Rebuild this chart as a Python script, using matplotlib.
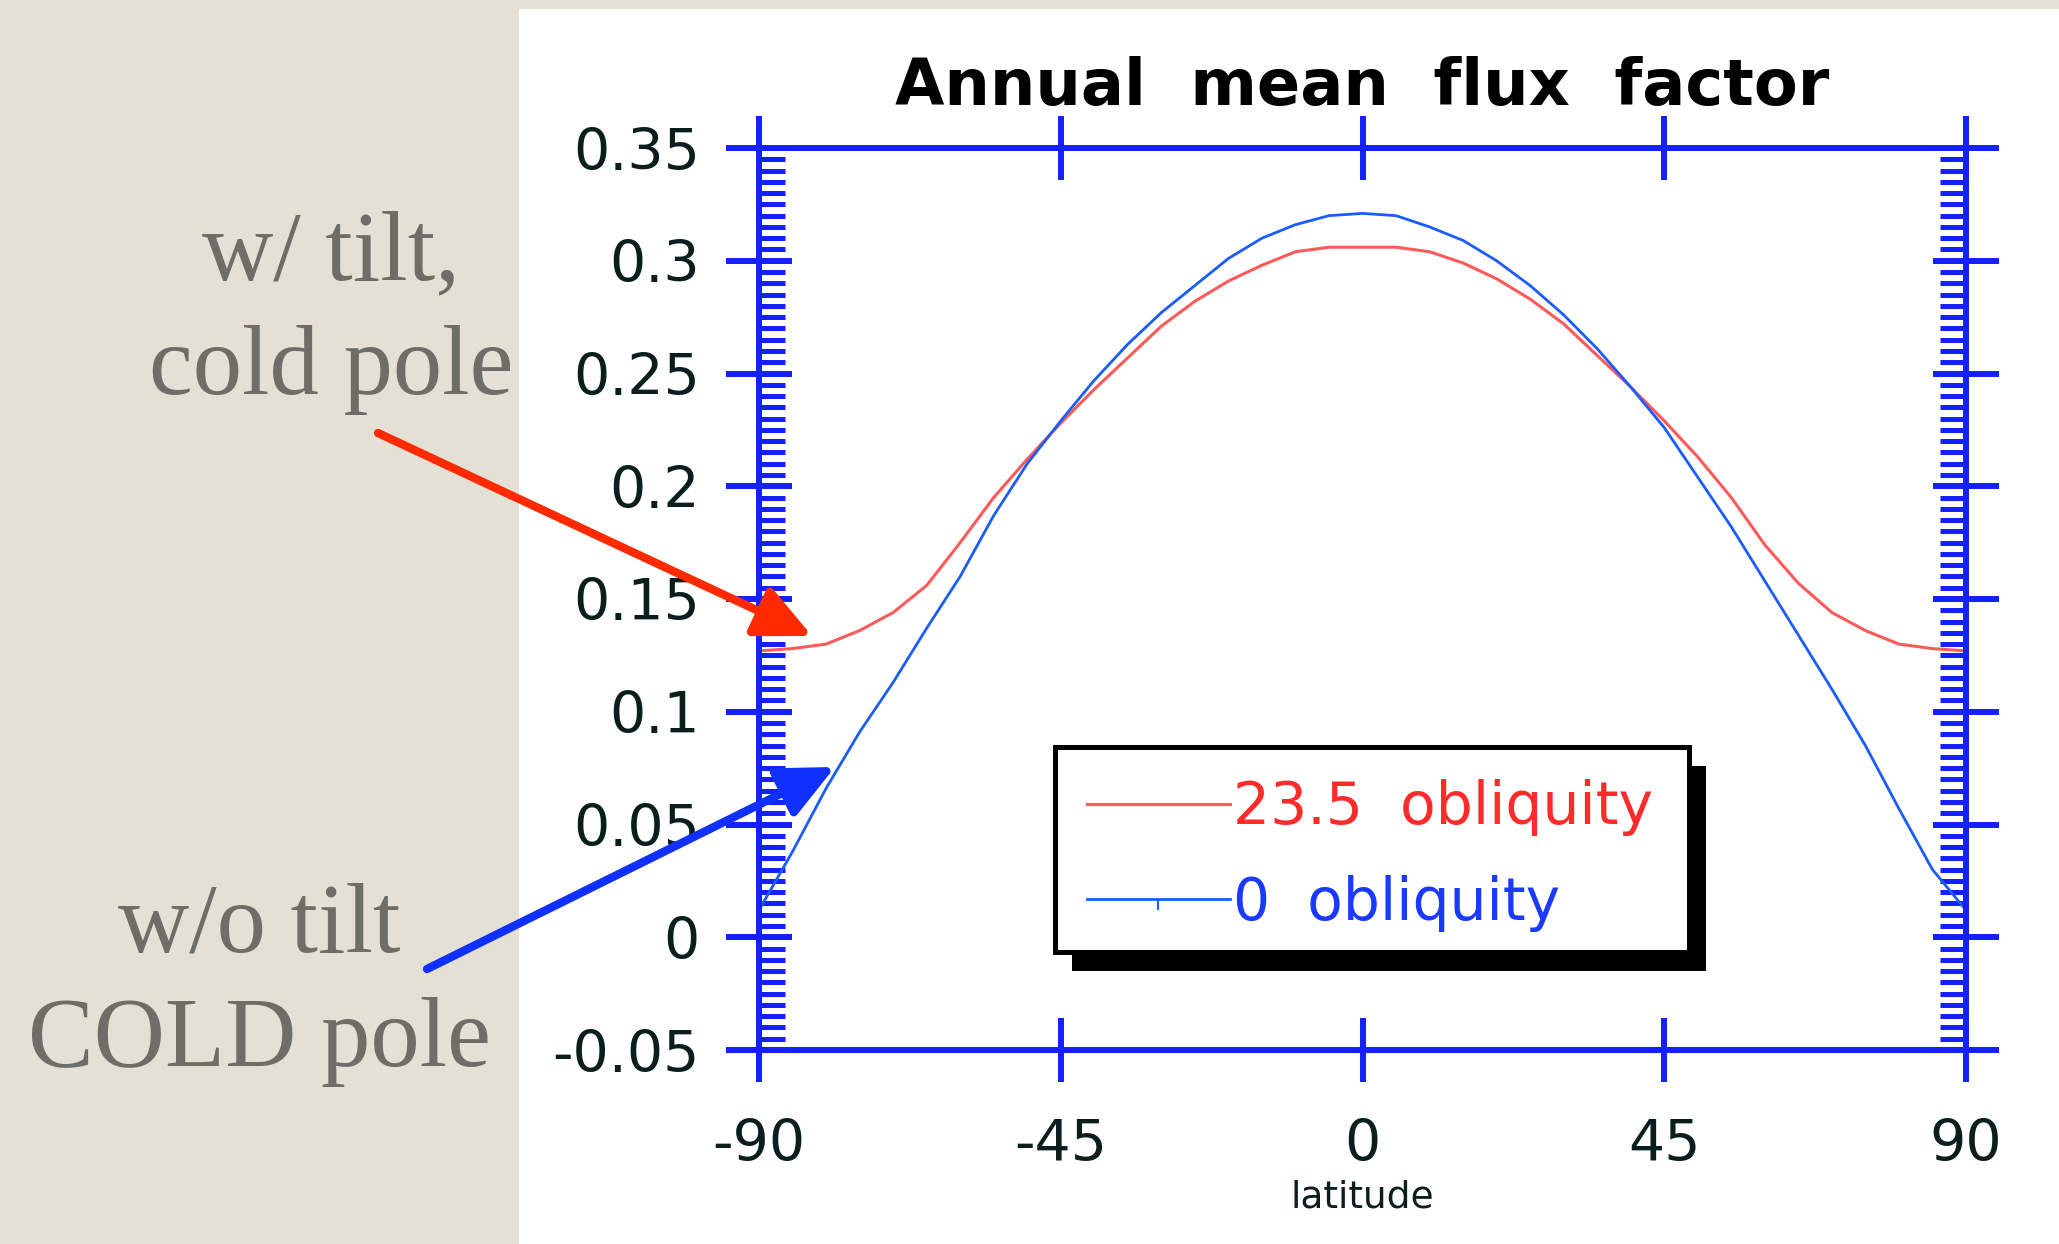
import matplotlib
matplotlib.use('Agg')
import matplotlib.pyplot as plt
from matplotlib.lines import Line2D
from matplotlib.patches import Rectangle, FancyArrowPatch
from matplotlib.ticker import MultipleLocator

# latitude grid (deg)
lat = [-90, -85, -80, -75, -70, -65, -60, -55, -50, -45, -40, -35, -30, -25, -20,
       -15, -10, -5, 0, 5, 10, 15, 20, 25, 30, 35, 40, 45, 50, 55, 60, 65, 70,
       75, 80, 85, 90]

# annual mean flux factor, 23.5 deg obliquity
flux_tilt = [0.127, 0.128, 0.130, 0.136, 0.144, 0.156, 0.175, 0.195, 0.212, 0.228,
             0.243, 0.257, 0.271, 0.282, 0.291, 0.298, 0.304, 0.306, 0.306, 0.306,
             0.304, 0.299, 0.292, 0.283, 0.272, 0.258, 0.244, 0.229, 0.213, 0.195,
             0.174, 0.157, 0.144, 0.136, 0.130, 0.128, 0.127]

# annual mean flux factor, 0 obliquity
flux_notilt = [0.012, 0.038, 0.066, 0.091, 0.113, 0.137, 0.160, 0.187, 0.210, 0.229,
               0.247, 0.263, 0.277, 0.289, 0.301, 0.310, 0.316, 0.320, 0.321, 0.320,
               0.315, 0.309, 0.300, 0.289, 0.276, 0.261, 0.244, 0.226, 0.204, 0.182,
               0.158, 0.134, 0.110, 0.085, 0.057, 0.030, 0.012]

lat_ticks = [-90, -45, 0, 45, 90]
lat_labels = ['-90', '-45', '0', '45', '90']
flux_ticks = [-0.05, 0, 0.05, 0.1, 0.15, 0.2, 0.25, 0.3, 0.35]
flux_labels = ['-0.05', '0', '0.05', '0.1', '0.15', '0.2', '0.25', '0.3', '0.35']

series_names = ['23.5  obliquity', '0  obliquity']

W, H = 2059, 1244
blue = '#1420ff'
red_line = '#ff5a5a'
blue_line = '#1a5cff'
ink = '#0a1e1e'
slide_gray = '#6e6d67'

fig = plt.figure(figsize=(W / 100, H / 100), dpi=100)
fig.patch.set_facecolor('#e4e0d5')
# white panel the plot sits on
fig.add_artist(Rectangle((519 / W, 0), 1 - 519 / W, 1 - 9 / H,
                         transform=fig.transFigure, facecolor='white',
                         edgecolor='none', zorder=-1))

ax = fig.add_axes([759 / W, 1 - 1050 / H, (1966 - 759) / W, (1050 - 148) / H])
ax.plot(lat, flux_tilt, color=red_line, lw=2.2)
ax.plot(lat, flux_notilt, color=blue_line, lw=2.0)
ax.set_xlim(-90, 90)
ax.set_ylim(-0.05, 0.35)

ax.set_xticks(lat_ticks)
ax.set_xticklabels(lat_labels)
ax.set_yticks(flux_ticks)
ax.set_yticklabels(flux_labels)
ax.yaxis.set_minor_locator(MultipleLocator(0.005))

ax.tick_params(which='major', direction='inout', width=4.3, color=blue,
               top=True, right=True, labelsize=41, labelcolor=ink)
ax.tick_params(axis='x', which='major', length=46, pad=26)
ax.tick_params(axis='y', which='major', length=47, pad=19)
ax.tick_params(axis='y', which='minor', direction='in', length=19, width=3.6,
               color=blue, left=True, right=True)
for s in ax.spines.values():
    s.set_color(blue)
    s.set_linewidth(4.3)

fig.text(1362 / W, 1 - 105 / H, 'Annual  mean  flux  factor', fontsize=46,
         fontweight='bold', color='black', ha='center', va='baseline')

ax.set_xlabel('latitude', fontsize=27, color=ink, va='baseline')
ax.xaxis.set_label_coords(0.5, -(1207 - 1050) / 902)

# legend box with hard black shadow
bx, by, bw, bh = 0.2452, 0.1086, 0.5253, 0.2273
ax.add_patch(Rectangle((bx + 0.0141, by - 0.0211), bw, bh, transform=ax.transAxes,
                       facecolor='black', edgecolor='none', zorder=3.8))
ax.add_patch(Rectangle((bx, by), bw, bh, transform=ax.transAxes,
                       facecolor='white', edgecolor='black', lw=3.6, zorder=3.9))
handles = [Line2D([], [], color=red_line, lw=2.2),
           Line2D([], [], color=blue_line, lw=2.0, marker=3, markersize=8,
                  markeredgewidth=1.5)]
leg = ax.legend(handles, series_names, loc='upper left', bbox_to_anchor=(0.2717, 0.300),
                borderaxespad=0, borderpad=0, frameon=False, fontsize=42,
                handlelength=2.45, handletextpad=0.05, labelspacing=0.66,
                labelcolor=['#ff2a2a', '#1a3aff'])
leg.set_zorder(5)

# slide annotations (va='baseline' sits on the last line)
fig.text(331 / W, 1 - 394 / H, 'w/ tilt,\ncold pole', fontsize=71,
         family='Liberation Serif', color=slide_gray, ha='center', va='baseline',
         multialignment='center', linespacing=1.36)
fig.text(259 / W, 1 - 1066 / H, 'w/o tilt\nCOLD pole', fontsize=71,
         family='Liberation Serif', color=slide_gray, ha='center', va='baseline',
         multialignment='center', linespacing=1.36)

fig.add_artist(FancyArrowPatch((378 / W, 1 - 433 / H), (812 / W, 1 - 636 / H),
                               transform=fig.transFigure,
                               arrowstyle='-|>,head_length=34,head_width=16',
                               mutation_scale=1, lw=6, color='#ff2a00',
                               shrinkA=0, shrinkB=0, zorder=10))
fig.add_artist(FancyArrowPatch((427 / W, 1 - 969 / H), (835 / W, 1 - 767 / H),
                               transform=fig.transFigure,
                               arrowstyle='-|>,head_length=34,head_width=16',
                               mutation_scale=1, lw=6, color='#1030ff',
                               shrinkA=0, shrinkB=0, zorder=10))

fig.savefig('out.png', dpi=100, facecolor=fig.get_facecolor())
